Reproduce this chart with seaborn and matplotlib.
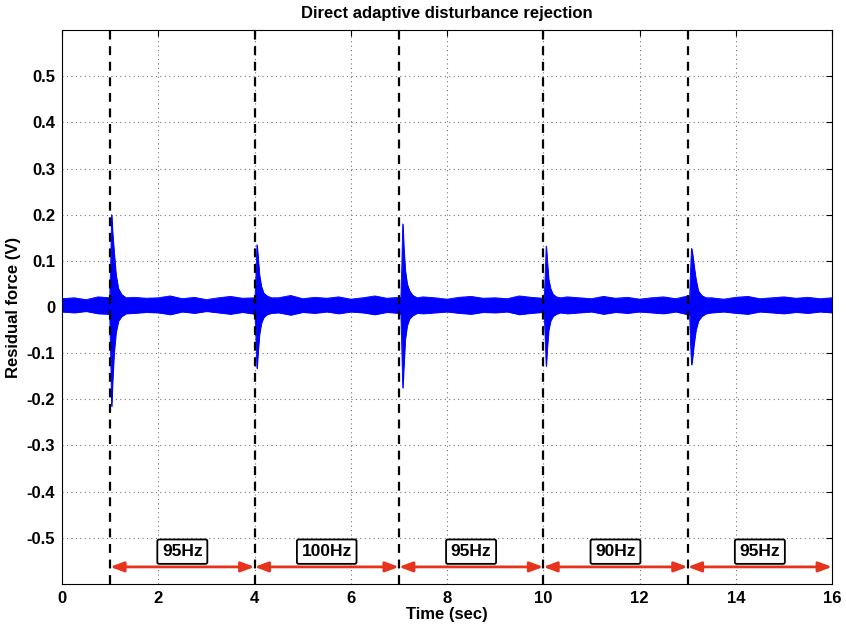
import numpy as np
import pandas as pd
import matplotlib
matplotlib.use('Agg')
import matplotlib.pyplot as plt
import seaborn as sns

# switching instants and the frequency of each segment
switch_times = [1, 4, 7, 10, 13]
segment_end = [4, 7, 10, 13, 16]
freq_labels = ['95Hz', '100Hz', '95Hz', '90Hz', '95Hz']

# background noise envelope (read every 0.25 s)
base_upper = [0.018, 0.020, 0.016, 0.022, 0.018, 0.017, 0.021, 0.019, 0.020, 0.024,
              0.018, 0.021, 0.016, 0.020, 0.023, 0.019, 0.022, 0.017, 0.020, 0.025,
              0.018, 0.021, 0.019, 0.022, 0.017, 0.020, 0.024, 0.019, 0.021, 0.018,
              0.022, 0.020, 0.017, 0.021, 0.023, 0.019, 0.020, 0.018, 0.024, 0.021,
              0.019, 0.017, 0.022, 0.020, 0.018, 0.023, 0.019, 0.021, 0.017, 0.020,
              0.022, 0.018, 0.024, 0.019, 0.020, 0.017, 0.021, 0.023, 0.018, 0.020,
              0.022, 0.019, 0.021, 0.018, 0.020]
base_lower = [-0.010, -0.012, -0.009, -0.014, -0.011, -0.010, -0.013, -0.011, -0.012, -0.016,
              -0.010, -0.013, -0.009, -0.012, -0.015, -0.011, -0.013, -0.010, -0.012, -0.017,
              -0.011, -0.013, -0.010, -0.014, -0.010, -0.012, -0.016, -0.011, -0.013, -0.010,
              -0.014, -0.012, -0.010, -0.013, -0.015, -0.011, -0.012, -0.010, -0.016, -0.013,
              -0.011, -0.010, -0.014, -0.012, -0.010, -0.015, -0.011, -0.013, -0.010, -0.012,
              -0.014, -0.010, -0.016, -0.011, -0.012, -0.010, -0.013, -0.015, -0.010, -0.012,
              -0.014, -0.011, -0.013, -0.010, -0.012]

# transient envelopes after each switch (offsets from the peak)
peak_times = [1.03, 4.05, 7.08, 10.06, 13.08]
trans_dt = [-0.04, -0.02, 0.0, 0.02, 0.05, 0.09, 0.14, 0.21, 0.30]
trans_upper = [
    [0.02, 0.09, 0.200, 0.16, 0.12, 0.07, 0.040, 0.027, 0.02],
    [0.02, 0.07, 0.135, 0.11, 0.07, 0.045, 0.030, 0.024, 0.02],
    [0.02, 0.09, 0.180, 0.13, 0.08, 0.05, 0.035, 0.025, 0.02],
    [0.02, 0.07, 0.132, 0.10, 0.06, 0.04, 0.028, 0.022, 0.02],
    [0.02, 0.08, 0.127, 0.115, 0.09, 0.06, 0.035, 0.025, 0.02],
]
trans_lower = [
    [-0.015, -0.10, -0.215, -0.16, -0.10, -0.055, -0.030, -0.020, -0.014],
    [-0.015, -0.07, -0.133, -0.10, -0.06, -0.035, -0.022, -0.016, -0.013],
    [-0.015, -0.09, -0.175, -0.13, -0.07, -0.040, -0.025, -0.018, -0.013],
    [-0.015, -0.07, -0.128, -0.09, -0.05, -0.030, -0.020, -0.015, -0.012],
    [-0.015, -0.08, -0.125, -0.11, -0.08, -0.050, -0.030, -0.020, -0.014],
]

# merge the background and the transients into one envelope
base_t = np.linspace(0, 16, len(base_upper))
keep = np.ones(len(base_t), bool)
for pk in peak_times:
    keep &= ~((base_t > pk - 0.06) & (base_t < pk + 0.32))
t_env = list(base_t[keep])
up_env = list(np.array(base_upper)[keep])
lo_env = list(np.array(base_lower)[keep])
for pk, up, lo in zip(peak_times, trans_upper, trans_lower):
    t_env += [pk + d for d in trans_dt]
    up_env += up
    lo_env += lo
env = pd.DataFrame({'t': t_env, 'upper': up_env, 'lower': lo_env}).sort_values('t')

sns.set_style('white')
plt.rcParams['font.family'] = ['Liberation Sans', 'DejaVu Sans']
plt.rcParams['font.weight'] = 'bold'
plt.rcParams['text.color'] = 'black'
plt.rcParams['axes.labelcolor'] = 'black'
plt.rcParams['xtick.color'] = 'black'
plt.rcParams['ytick.color'] = 'black'

fig = plt.figure(figsize=(8.46, 6.28), dpi=100)
ax = fig.add_axes([0.0733, 0.0701, 0.9102, 0.8821])

ax.fill_between(env['t'], env['lower'], env['upper'], color='#0000ff', lw=0.6)
sns.lineplot(data=env, x='t', y='upper', color='#0000ff', lw=0.6, ax=ax)
sns.lineplot(data=env, x='t', y='lower', color='#0000ff', lw=0.6, ax=ax)

for ts in switch_times:
    ax.axvline(ts, color='black', ls=(0, (4, 3)), lw=1.6, zorder=3)

red = '#e8331c'
for a, b, lab in zip(switch_times, segment_end, freq_labels):
    ax.annotate('', xy=(b, -0.563), xytext=(a, -0.563),
                arrowprops=dict(arrowstyle='<|-|>,head_length=0.8,head_width=0.3',
                                color=red, lw=2, shrinkA=0, shrinkB=0), zorder=4)
    ax.text((a + b) / 2, -0.53, lab, ha='center', va='center', fontsize=12.5,
            fontweight='bold', color='black',
            bbox=dict(boxstyle='round,pad=0.27,rounding_size=0.1', fc='white',
                      ec='black', lw=1.3), zorder=5)

ax.set_xlim(0, 16)
ax.set_ylim(-0.6, 0.6)
ax.set_xticks(range(0, 17, 2))
ax.set_yticks(np.round(np.arange(-0.5, 0.51, 0.1), 1))
ax.set_yticklabels(['-0.5', '-0.4', '-0.3', '-0.2', '-0.1', '0',
                    '0.1', '0.2', '0.3', '0.4', '0.5'])
ax.grid(True, color='0.45', ls=(0, (1, 3)), lw=0.8)
ax.tick_params(direction='in', top=True, right=True, length=4, labelsize=12, width=0.8,
               pad=5, colors='black')
for s in ax.spines.values():
    s.set_color('black')
    s.set_linewidth(0.8)
for lbl in ax.get_xticklabels() + ax.get_yticklabels():
    lbl.set_fontweight('bold')

ax.set_xlabel('Time (sec)', fontsize=12, fontweight='bold', labelpad=1, color='black')
ax.set_ylabel('Residual force (V)', fontsize=12, fontweight='bold', labelpad=4, color='black')
ax.set_title('Direct adaptive disturbance rejection', fontsize=12, fontweight='bold', pad=9,
             color='black')

fig.savefig('out.png', dpi=100)
